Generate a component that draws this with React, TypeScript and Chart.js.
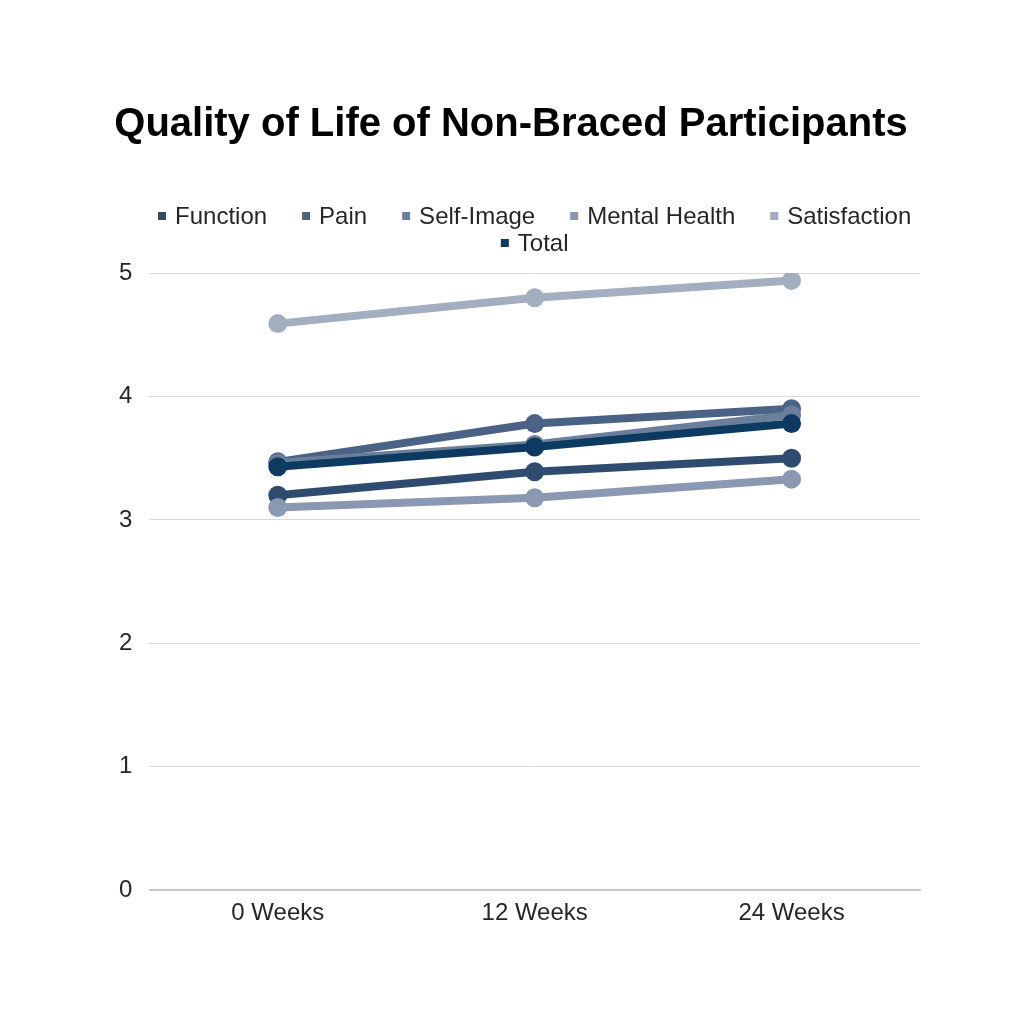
import React, { useEffect, useRef } from "react";
import { Chart, registerables } from "chart.js";

Chart.register(...registerables);

const categories = ["0 Weeks", "12 Weeks", "24 Weeks"];
const seriesNames = ["Function", "Pain", "Self-Image", "Mental Health", "Satisfaction", "Total"];
const functionValues = [3.2, 3.39, 3.5];
const painValues = [3.47, 3.78, 3.9];
const selfImageValues = [3.46, 3.61, 3.85];
const mentalHealthValues = [3.1, 3.18, 3.33];
const satisfactionValues = [4.59, 4.8, 4.94];
const totalValues = [3.43, 3.59, 3.78];
const yTicks = [0, 1, 2, 3, 4, 5];
const colors = ["#2f4b6f", "#4b6287", "#6b7f9d", "#8a98b2", "#a3aec0", "#0d3a60"];

const FONT = "Liberation Sans, Arial, sans-serif";

const customLegend = {
  id: "customLegend",
  afterDraw(chart: any) {
    const { ctx, chartArea } = chart;
    const items = chart.data.datasets.map((d: any) => ({ text: d.label, color: d.borderColor }));
    ctx.save();
    ctx.font = `24px ${FONT}`;
    const box = 8;
    const gapBox = 9;
    const gapItem = 35;
    const maxW = chartArea.right - chartArea.left;
    const rows: any[][] = [[]];
    let w = 0;
    items.forEach((it: any) => {
      const iw = box + gapBox + ctx.measureText(it.text).width;
      const row = rows[rows.length - 1];
      const add = row.length ? gapItem + iw : iw;
      if (row.length && w + add > maxW) {
        rows.push([{ ...it, w: iw }]);
        w = iw;
      } else {
        row.push({ ...it, w: iw });
        w += add;
      }
    });
    const cx = (chartArea.left + chartArea.right) / 2;
    const rowYs = [chartArea.top - 57, chartArea.top - 30];
    rows.forEach((row, ri) => {
      const total = row.reduce((s, it) => s + it.w, 0) + gapItem * (row.length - 1);
      let x = cx - total / 2;
      const y = rowYs[ri] ?? chartArea.top - 30 + (ri - 1) * 27;
      row.forEach((it) => {
        ctx.fillStyle = it.color;
        ctx.fillRect(x, y - box / 2, box, box);
        ctx.fillStyle = "#262626";
        ctx.textBaseline = "middle";
        ctx.textAlign = "left";
        ctx.fillText(it.text, x + box + gapBox, y + 1);
        x += it.w + gapItem;
      });
    });
    ctx.restore();
  },
};

export default function App() {
  const ref = useRef<HTMLCanvasElement>(null);
  useEffect(() => {
    if (!ref.current) return;
    const values = [functionValues, painValues, selfImageValues, mentalHealthValues, satisfactionValues, totalValues];
    const order = [4, 3, 2, 1, 0, -1];
    const chart = new Chart(ref.current, {
      type: "line",
      data: {
        labels: categories,
        datasets: seriesNames.map((name, i) => ({
          label: name,
          data: values[i],
          borderColor: colors[i],
          backgroundColor: colors[i],
          pointBackgroundColor: colors[i],
          pointBorderColor: colors[i],
          borderWidth: 8,
          pointRadius: 9.5,
          pointHoverRadius: 9.5,
          pointBorderWidth: 0,
          tension: 0,
          order: order[i],
        })),
      },
      options: {
        responsive: false,
        animation: false,
        layout: { padding: { left: 102, right: 104, top: 101, bottom: 87 } },
        plugins: {
          title: {
            display: true,
            text: "Quality of Life of Non-Braced Participants",
            color: "#000000",
            font: { family: FONT, size: 40, weight: "bold" },
            padding: { top: 0, bottom: 124 },
          },
          legend: { display: false },
          tooltip: { enabled: false },
        },
        scales: {
          x: {
            offset: true,
            grid: { display: false, drawTicks: false },
            border: { display: true, color: "#bfbfbf", width: 1.5 },
            ticks: {
              color: "#262626",
              font: { family: FONT, size: 24 },
              padding: 9,
            },
          },
          y: {
            min: 0,
            max: 5,
            afterBuildTicks: (axis: any) => {
              axis.ticks = yTicks.map((v) => ({ value: v }));
            },
            grid: { color: "#d9d9d9", lineWidth: 1, drawTicks: false },
            border: { display: false },
            ticks: {
              color: "#262626",
              font: { family: FONT, size: 24 },
              padding: 17,
            },
          },
        },
      },
      plugins: [customLegend],
    });
    return () => chart.destroy();
  }, []);
  return (
    <div style={{ position: "fixed", left: 0, top: 0, width: 1024, height: 1024, background: "#ffffff" }}>
      <canvas ref={ref} width={1024} height={1024} />
    </div>
  );
}
